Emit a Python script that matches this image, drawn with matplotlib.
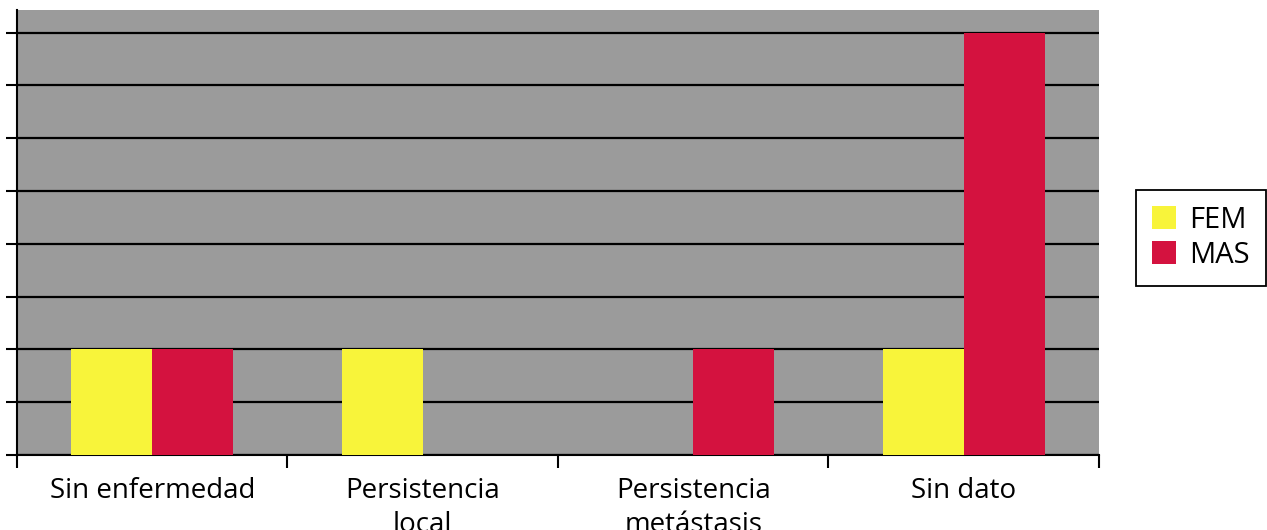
import numpy as np
import matplotlib
matplotlib.use("Agg")
import matplotlib.pyplot as plt
from matplotlib.patches import Patch

categories = ["Sin enfermedad", "Persistencia\nlocal", "Persistencia\nmetástasis", "Sin dato"]
series_names = ["FEM", "MAS"]
fem_values = [2, 2, 0, 2]
mas_values = [2, 0, 2, 8]

fem_color = "#f8f43a"
mas_color = "#d4123f"
panel_gray = "#9b9b9b"

plt.rcParams["font.family"] = ["Open Sans", "DejaVu Sans"]

fig = plt.figure(figsize=(12.67, 5.30), dpi=100)
ax = fig.add_axes([17 / 1267, 75 / 530, (1099 - 17) / 1267, 445 / 530])
ax.set_facecolor(panel_gray)

x = np.arange(len(categories))
width = 0.3
ax.bar(x - width / 2, fem_values, width, color=fem_color, zorder=3)
ax.bar(x + width / 2, mas_values, width, color=mas_color, zorder=3)

ax.set_xlim(-0.5, len(categories) - 0.5)
ax.set_ylim(0, 8.43)

# horizontal grid lines at every unit
ax.set_yticks(np.arange(0, 9))
ax.set_yticklabels([])
ax.yaxis.grid(True, color="black", linewidth=1.6)
ax.set_axisbelow(True)

# category boundaries carry the x tick marks, labels sit at centres
ax.set_xticks(np.arange(-0.5, len(categories), 1.0))
ax.set_xticklabels([])
ax.set_xticks(x, minor=True)
ax.set_xticklabels(categories, minor=True, fontsize=20, linespacing=1.28,
                   va="top")
ax.tick_params(axis="x", which="minor", length=0, pad=16)
ax.tick_params(axis="x", which="major", length=9, width=1.5, direction="out")
ax.tick_params(axis="y", length=8, width=1.5, direction="out")

for side in ("top", "right"):
    ax.spines[side].set_visible(False)
for side in ("left", "bottom"):
    ax.spines[side].set_linewidth(1.5)
    ax.spines[side].set_color("black")

handles = [Patch(facecolor=fem_color, edgecolor="none"),
           Patch(facecolor=mas_color, edgecolor="none")]
leg = fig.legend(handles, series_names, loc="upper left",
                 bbox_to_anchor=(1136 / 1267, (530 - 190) / 530),
                 fontsize=21, frameon=True, fancybox=False,
                 edgecolor="black", framealpha=1, borderaxespad=0,
                 handlelength=0.83, handleheight=0.83, handletextpad=0.45,
                 borderpad=0.55, labelspacing=0.2)
leg.get_frame().set_linewidth(1.3)

fig.savefig("out.png", dpi=100)
